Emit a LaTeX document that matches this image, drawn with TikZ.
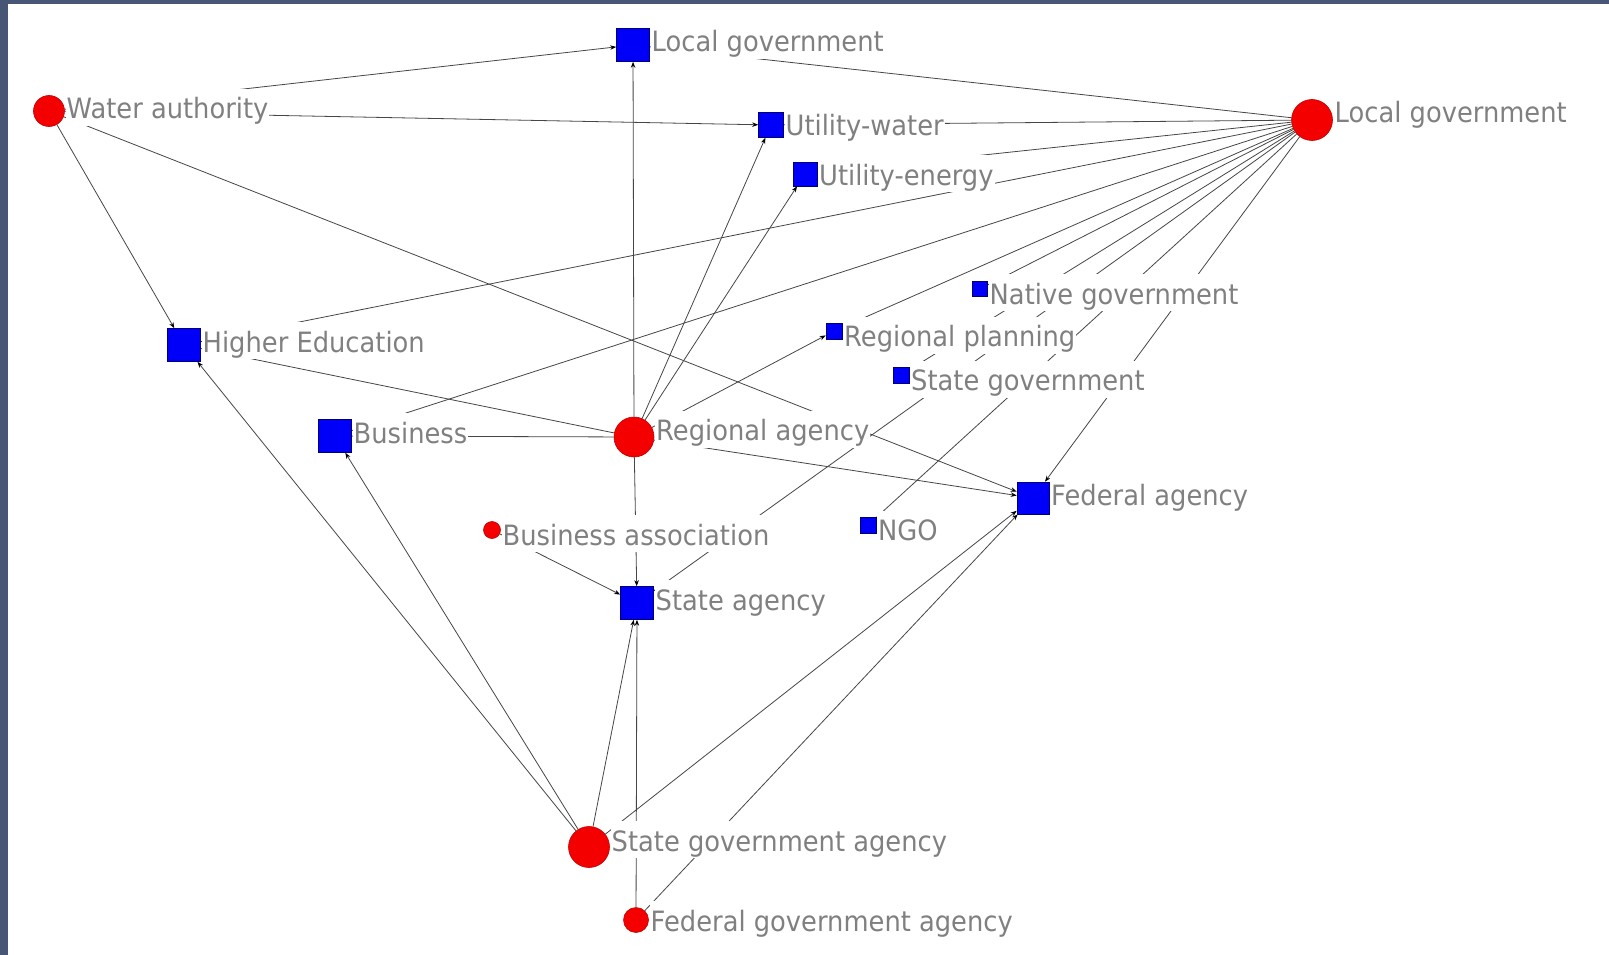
\documentclass[tikz,border=0pt]{standalone}
\usepackage{fontspec}
\setmainfont{DejaVu Sans}[FakeStretch=0.92]
\usetikzlibrary{arrows.meta}
\pgfdeclarelayer{bg}
\pgfdeclarelayer{edges}
\pgfsetlayers{bg,edges,main}
\definecolor{edgecol}{RGB}{70,70,70}
\definecolor{labcol}{RGB}{128,128,128}
\definecolor{bordercol}{RGB}{72,86,118}
\definecolor{nodered}{RGB}{245,0,0}
\definecolor{nodeblue}{RGB}{0,0,250}
\begin{document}
\begin{tikzpicture}[x=1pt,y=-1pt,
  actor/.style={circle,fill=nodered,draw=red!75!black,line width=0.6pt,inner sep=0pt,minimum size=#1},
  org/.style={rectangle,fill=nodeblue,draw=blue!45!black,line width=0.6pt,inner sep=0pt,minimum size=#1},
  lbl/.style={anchor=base west,fill=white,inner xsep=1pt,inner ysep=0pt,text height=30pt,text depth=7pt,text=labcol,font=\fontsize{28}{30}\selectfont},
  tie/.style={draw=edgecol,line width=0.8pt},
  dirtie/.style={tie,-{Stealth[length=6pt,width=4.5pt,color=black]}}
]
\begin{pgfonlayer}{bg}
\fill[white] (0,0) rectangle (1609,955);
\fill[bordercol] (0,0) rectangle (1609,4);
\fill[bordercol] (0,0) rectangle (8,955);
\end{pgfonlayer}

% nodes
\node[actor=31pt] (wa) at (49,111) {};
\node[org=33pt] (lgs) at (633,45) {};
\node[org=25pt] (uw) at (771,125) {};
\node[org=24pt] (ue) at (805,174) {};
\node[actor=41pt] (lgc) at (1312,120) {};
\node[org=33pt] (he) at (184,345) {};
\node[org=15pt] (ng) at (980,289) {};
\node[org=16pt] (rp) at (834,331) {};
\node[org=16pt] (sg) at (901,375) {};
\node[org=33pt] (bus) at (335,436) {};
\node[actor=40pt] (ra) at (634,437) {};
\node[org=32pt] (fa) at (1033,498) {};
\node[org=16pt] (ngo) at (868,525) {};
\node[actor=17pt] (ba) at (492,530) {};
\node[org=33pt] (sa) at (637,603) {};
\node[actor=41pt] (sga) at (589,847) {};
\node[actor=25pt] (fga) at (636,920) {};

% labels
\node[lbl] (wal) at (65.5,119) {Water authority};
\node[lbl] (lgsl) at (650.5,52) {Local government};
\node[lbl] (uwl) at (784.5,136) {Utility-water};
\node[lbl] (uel) at (818,185) {Utility-energy};
\node[lbl] (lgcl) at (1333.5,123) {Local government};
\node[lbl] (hel) at (201.5,352) {Higher Education};
\node[lbl] (ngl) at (988.5,304) {Native government};
\node[lbl] (rpl) at (843,346.5) {Regional planning};
\node[lbl] (sgl) at (910,390.5) {State government};
\node[lbl] (busl) at (352.5,443) {Business};
\node[lbl] (ral) at (655,440.5) {Regional agency};
\node[lbl] (fal) at (1050,505.5) {Federal agency};
\node[lbl] (ngol) at (877,540.5) {NGO};
\node[lbl] (bal) at (501.5,545) {Business association};
\node[lbl] (sal) at (654.5,610) {State agency};
\node[lbl] (sgal) at (610.5,851) {State government agency};
\node[lbl] (fgal) at (649.5,931) {Federal government agency};

\begin{pgfonlayer}{edges}
% Water authority
\draw[dirtie] (wa) -- (lgs);
\draw[dirtie] (wa) -- (uw);
\draw[dirtie] (wa) -- (he);
\draw[dirtie] (wa) -- (fa);
% Regional agency
\draw[dirtie] (ra) -- (lgs);
\draw[dirtie] (ra) -- (uw);
\draw[dirtie] (ra) -- (ue);
\draw[dirtie] (ra) -- (rp);
\draw[dirtie] (ra) -- (fa);
\draw[dirtie] (ra) -- (sa);
\draw[dirtie] (ra) -- (he);
\draw[dirtie] (ra) -- (bus);
% Business association
\draw[dirtie] (ba) -- (sa);
% State government agency
\draw[dirtie] (sga) -- (he);
\draw[dirtie] (sga) -- (bus);
\draw[dirtie] (sga) -- (sa);
\draw[dirtie] (sga) -- (fa);
% Federal government agency
\draw[dirtie] (fga) -- (sa);
\draw[dirtie] (fga) -- (fa);
% Local government (circle)
\draw[dirtie] (lgc) -- (lgs);
\draw[dirtie] (lgc) -- (uw);
\draw[dirtie] (lgc) -- (ue);
\draw[dirtie] (lgc) -- (he);
\draw[dirtie] (lgc) -- (bus);
\draw[dirtie] (lgc) -- (rp);
\draw[dirtie] (lgc) -- (ng);
\draw[dirtie] (lgc) -- (sg);
\draw[dirtie] (lgc) -- (sa);
\draw[dirtie] (lgc) -- (ngo);
\draw[dirtie] (lgc) -- (fa);
\end{pgfonlayer}
\end{tikzpicture}
\end{document}
